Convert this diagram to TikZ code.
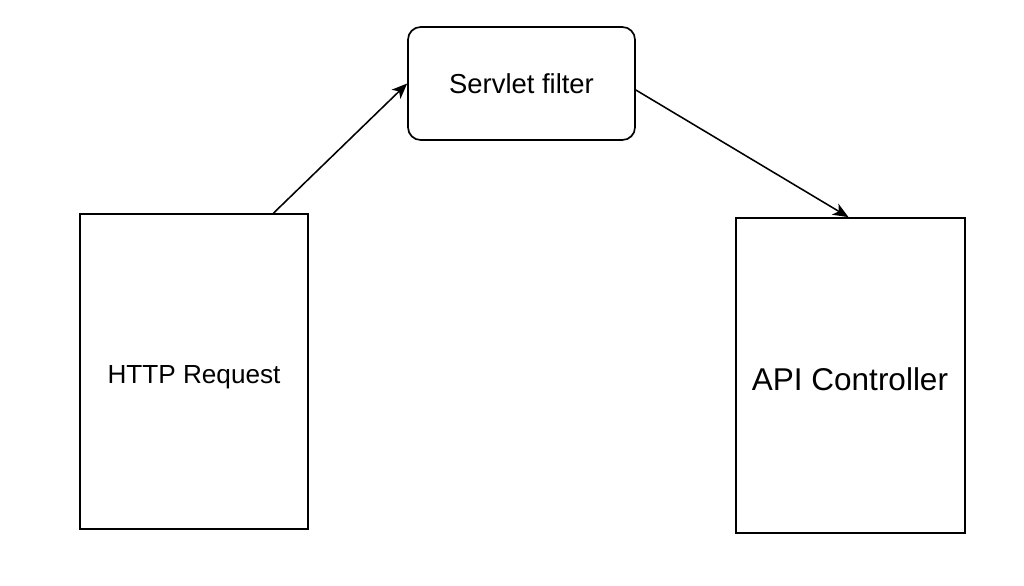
\documentclass[tikz,border=0pt]{standalone}
\usepackage{fontspec}
\setmainfont{Liberation Sans}
\usetikzlibrary{arrows.meta,calc}

\begin{document}
\begin{tikzpicture}[x=0.025cm,y=-0.025cm]
\tikzstyle{box}=[draw,line width=1.2pt,inner sep=0pt]
\tikzstyle{flow}=[line width=1.1pt,-{Stealth[length=11pt,width=9pt,inset=3pt]}]
\useasboundingbox[fill=white] (0,0) rectangle (1024,585);

\node[box,minimum width=228*0.025cm,minimum height=315*0.025cm] (http) at (194,371.5) {};
\node[font=\fontsize{18.6}{22}\selectfont] (httptext) at (194,377) {HTTP Request};
\node[box,rounded corners=9pt,minimum width=227*0.025cm,minimum height=113*0.025cm,
  font=\fontsize{19.5}{23}\selectfont] (filter) at (521.5,83.5) {Servlet filter};
\node[box,minimum width=229*0.025cm,minimum height=315*0.025cm] (api) at (850.5,375.5) {};
\node[font=\fontsize{22.4}{26}\selectfont] (apitext) at (850,379) {API Controller};

%\draw (http) -- (filter) -- (api);
\draw[flow] ($(http.north west)!0.846!(http.north east)$) -- (filter.west);
\draw[flow] ($(filter.east)+(0,6.5)$) -- ($(api.north)+(-2,0)$);
\end{tikzpicture}
\end{document}
